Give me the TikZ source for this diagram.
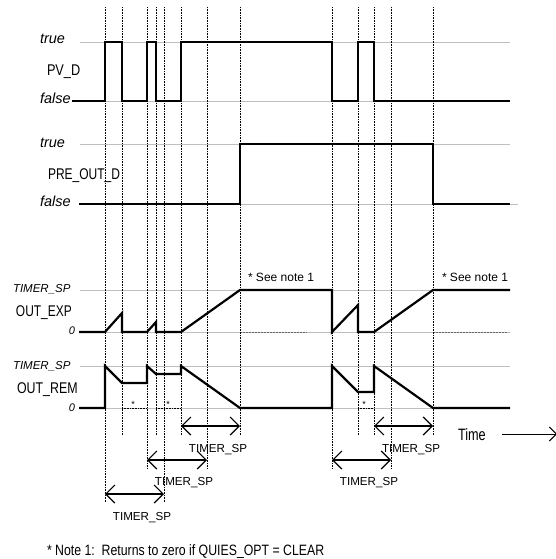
\documentclass[tikz,border=0pt]{standalone}
\usepackage{fontspec}
\setmainfont{Liberation Sans}
\usetikzlibrary{arrows.meta}
\newcommand{\fsz}[1]{\fontsize{#1}{#1}\selectfont}
\tikzset{
  sig/.style={line width=2.2pt, line join=miter},
  gridl/.style={line width=0.9pt, black!25},
  vdot/.style={line width=0.5pt, dash pattern=on 0.8pt off 0.8pt},
  zdash/.style={line width=0.6pt, black!60, dash pattern=on 2pt off 1pt},
  zdot/.style={line width=0.6pt, dash pattern=on 0.8pt off 0.8pt},
  dimarrow/.style={line width=1.2pt, {Straight Barb[length=9pt,width=18pt]}-{Straight Barb[length=9pt,width=18pt]}},
  lbl/.style={inner sep=0pt, outer sep=0pt},
  itallbl/.style={lbl, font=\itshape\fsz{14.5}},
  siglbl/.style={lbl, font=\fsz{15.5}},
  tsplbl/.style={lbl, font=\itshape\fsz{11.5}},
  zerolbl/.style={lbl, font=\itshape\fsz{11}},
  dimlbl/.style={lbl, font=\fsz{11.6}},
  notelbl/.style={lbl, font=\fsz{12}},
  starlbl/.style={lbl, font=\fsz{9}}
}
\begin{document}
\begin{tikzpicture}[x=1pt,y=-1pt]
\useasboundingbox (0,0) rectangle (556,559);

% grey reference lines
\draw[gridl] (80,42) -- (510,42);
\draw[gridl] (80,101) -- (510,101);
\draw[gridl] (80,144) -- (510,144);
\draw[gridl] (80,204) -- (518,204);
\draw[gridl] (80,290) -- (510,290);
\draw[gridl] (80,332) -- (510,332);
\draw[gridl] (80,366) -- (510,366);
\draw[gridl] (80,408) -- (510,408);

% dashed / dotted zero segments
\draw[zdash] (240,332) -- (307,332);
\draw[zdash] (433,332) -- (508,332);
\draw[zdot] (122,408) -- (147,408);
\draw[zdot] (156,408) -- (181,408);
\draw[zdot] (358,408) -- (374,408);

% vertical dotted time marks
\foreach \x/\b in {105/502,122/435,147/468,156/435,164/502,181/435,207/468,240/435,
                   332/468,358/435,374/435,391/468,433/435}
  \draw[vdot] (\x,7) -- (\x,\b);

% PV_D
\draw[sig] (72,101) -- (105,101) -- (105,42) -- (122,42) -- (122,101) -- (147,101)
  -- (147,42) -- (156,42) -- (156,101) -- (181,101) -- (181,42) -- (332,42)
  -- (332,101) -- (358,101) -- (358,42) -- (374,42) -- (374,101) -- (510,101);
% PRE_OUT_D
\draw[sig] (79,204) -- (240,204) -- (240,144) -- (433,144) -- (433,204) -- (510,204);
% OUT_EXP
\draw[sig] (79,332) -- (105,332) -- (122,313) -- (122,332) -- (147,332) -- (156,322)
  -- (156,332) -- (181,332) -- (240,290) -- (332,290) -- (332,332) -- (358,305)
  -- (358,332) -- (374,332) -- (433,290) -- (510,290);
% OUT_REM
\draw[sig] (79,408) -- (105,408) -- (105,366) -- (122,383) -- (147,383) -- (147,366)
  -- (156,374) -- (181,374) -- (181,366) -- (240,408) -- (332,408) -- (332,366)
  -- (358,392) -- (374,392) -- (374,366) -- (433,408) -- (510,408);

% labels
\node[itallbl, anchor=base west] (t1) at (40,44) {true};
\node[siglbl, anchor=base west] (pvd) at (47,76) {\scalebox{0.82}[1]{PV\_D}};
\node[itallbl, anchor=base west] (f1) at (40,104) {false};
\node[itallbl, anchor=base west] (t2) at (40,147) {true};
\node[siglbl, anchor=base west] (pre) at (48,179) {\scalebox{0.775}[1]{PRE\_OUT\_D}};
\node[itallbl, anchor=base west] (f2) at (40,206) {false};
\node[tsplbl, anchor=base west] (ts1) at (13,292) {TIMER\_SP};
\node[siglbl, anchor=base west] (oexp) at (16,316) {\scalebox{0.77}[1]{OUT\_EXP}};
\node[zerolbl, anchor=base east] (z1) at (75,334) {0};
\node[tsplbl, anchor=base west] (ts2) at (13,369) {TIMER\_SP};
\node[siglbl, anchor=base west] (orem) at (17,393) {\scalebox{0.8}[1]{OUT\_REM}};
\node[zerolbl, anchor=base east] (z2) at (75,411) {0};

\node[notelbl, anchor=base west] (sn1) at (248,281) {* See note 1};
\node[notelbl, anchor=base west] (sn2) at (442,281) {* See note 1};

\node[starlbl, anchor=base] (s1) at (133,407) {*};
\node[starlbl, anchor=base] (s2) at (168,407) {*};
\node[starlbl, anchor=base] (s3) at (364,407) {*};

% dimension arrows
\coordinate (a1l) at (181,426); \coordinate (a1r) at (240,426);
\coordinate (a2l) at (147,460); \coordinate (a2r) at (207,460);
\coordinate (a3l) at (105,494); \coordinate (a3r) at (164,494);
\coordinate (a4l) at (374,426); \coordinate (a4r) at (433,426);
\coordinate (a5l) at (332,460); \coordinate (a5r) at (391,460);
\draw[dimarrow] (a1l) -- (a1r);
\draw[dimarrow] (a2l) -- (a2r);
\draw[dimarrow] (a3l) -- (a3r);
\draw[dimarrow] (a4l) -- (a4r);
\draw[dimarrow] (a5l) -- (a5r);
\node[dimlbl, anchor=base] (d1) at (218,452) {TIMER\_SP};
\node[dimlbl, anchor=base] (d2) at (184,485) {TIMER\_SP};
\node[dimlbl, anchor=base] (d3) at (142,520) {TIMER\_SP};
\node[dimlbl, anchor=base] (d4) at (411,452) {TIMER\_SP};
\node[dimlbl, anchor=base] (d5) at (369,485) {TIMER\_SP};

% time axis
\node[lbl, font=\fsz{16.5}, anchor=base west] (time) at (458,440) {\scalebox{0.77}[1]{Time}};
\coordinate (tstart) at (502,434);
\coordinate (tend) at (557,434);
\draw[line width=1pt, -{Straight Barb[length=7pt,width=14pt]}] (tstart) -- (tend);

% footnote
\node[lbl, font=\fsz{15}, anchor=base west] (fn) at (47,555) {\scalebox{0.82}[1]{* Note 1:\ \ Returns to zero if QUIES\_OPT = CLEAR}};
\end{tikzpicture}
\end{document}
